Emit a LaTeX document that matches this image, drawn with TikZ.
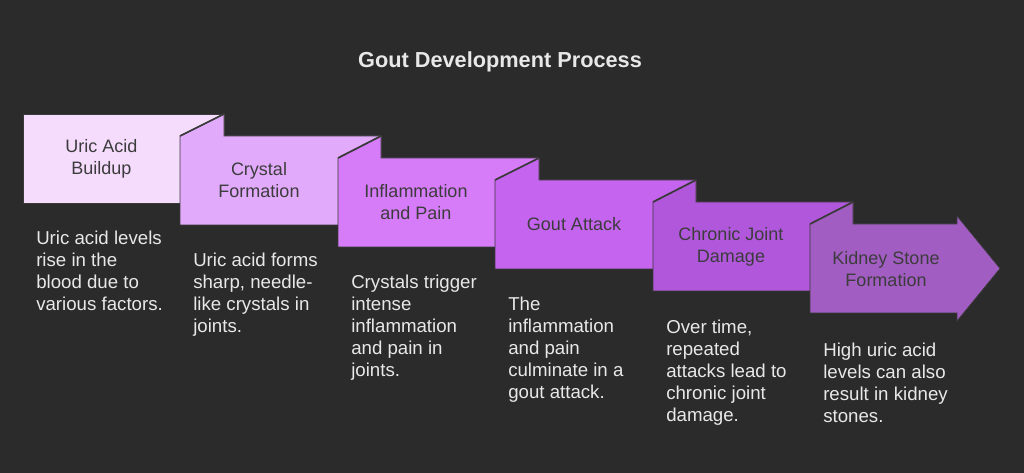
\documentclass[tikz,border=0pt]{standalone}
\usepackage{fontspec}
\setmainfont{Liberation Sans}
\definecolor{bgcol}{HTML}{2B2B2B}
\definecolor{stepA}{HTML}{F5DCFD}
\definecolor{stepB}{HTML}{E2AAFB}
\definecolor{stepC}{HTML}{D67CF9}
\definecolor{stepD}{HTML}{C564EE}
\definecolor{stepE}{HTML}{B157DC}
\definecolor{stepF}{HTML}{A25DC2}
\definecolor{edgecol}{HTML}{3A3A3A}
\definecolor{labelcol}{HTML}{3C3C3C}
\definecolor{desccol}{HTML}{E8E8E8}
\tikzset{
  stepshape/.style={draw=edgecol, line width=0.5pt, line join=miter},
  foldline/.style={draw=edgecol, line width=1.3pt},
  steplabel/.style={text=labelcol, font=\fontsize{13.5}{16.5}\selectfont, align=center},
  stepdesc/.style={text=desccol, font=\fontsize{14}{16.5}\selectfont, align=left,
    anchor=north west, inner sep=0pt},
}
\begin{document}
\begin{tikzpicture}[x=0.75pt,y=-0.75pt]
  \fill[bgcol] (0,0) rectangle (1024,473);
  \node[text=desccol, font=\bfseries\fontsize{16.3}{19}\selectfont] (title) at (500,62)
    {Gout Development Process};
  % steps, back to front
  \path[stepshape, fill=stepA]
    (23,114) -- (224,114) -- (224,203) -- (23,203) -- cycle;
  \path[stepshape, fill=stepB]
    (180,136) -- (224,114) -- (224,136) -- (381,136) -- (381,225) -- (180,225) -- cycle;
  \path[stepshape, fill=stepC]
    (338,158) -- (381,136) -- (381,158) -- (539,158) -- (539,247) -- (338,247) -- cycle;
  \path[stepshape, fill=stepD]
    (495,180) -- (539,158) -- (539,180) -- (696,180) -- (696,269) -- (495,269) -- cycle;
  \path[stepshape, fill=stepE]
    (653,202) -- (696,180) -- (696,202) -- (853,202) -- (853,291) -- (653,291) -- cycle;
  \path[stepshape, fill=stepF]
    (810,224) -- (853,202) -- (853,224) -- (957,224) -- (957,216) -- (1000,268.5)
    -- (957,321) -- (957,313) -- (810,313) -- cycle;
  \begin{scope}[foldline]
    \draw (180,136) -- (224,114);
    \draw (338,158) -- (381,136);
    \draw (495,180) -- (539,158);
    \draw (653,202) -- (696,180);
    \draw (810,224) -- (853,202);
  \end{scope}
  % labels
  \node[steplabel] (buildup) at (101.5,158.5) {Uric Acid\\Buildup};
  \node[steplabel] (crystal) at (259,180.5) {Crystal\\Formation};
  \node[steplabel] (inflam) at (416,202.5) {Inflammation\\and Pain};
  \node[steplabel] (attack) at (574,224.5) {Gout Attack};
  \node[steplabel] (damage) at (731,246.5) {Chronic Joint\\Damage};
  \node[steplabel] (stone) at (886,269) {Kidney Stone\\Formation};
  % descriptions (top = first baseline - strut)
  \node[stepdesc] (buildupdesc) at (36,228.6)
    {\strut Uric acid levels\\rise in the\\blood due to\\various factors.};
  \node[stepdesc] (crystaldesc) at (193,250.6)
    {\strut Uric acid forms\\sharp, needle-\\like crystals in\\joints.};
  \node[stepdesc] (inflamdesc) at (351,272.6)
    {\strut Crystals trigger\\intense\\inflammation\\and pain in\\joints.};
  \node[stepdesc] (attackdesc) at (508,294.6)
    {\strut The\\inflammation\\and pain\\culminate in a\\gout attack.};
  \node[stepdesc] (damagedesc) at (666,317.6)
    {\strut Over time,\\repeated\\attacks lead to\\chronic joint\\damage.};
  \node[stepdesc] (stonedesc) at (823,340.6)
    {\strut High uric acid\\levels can also\\result in kidney\\stones.};
\end{tikzpicture}
\end{document}
